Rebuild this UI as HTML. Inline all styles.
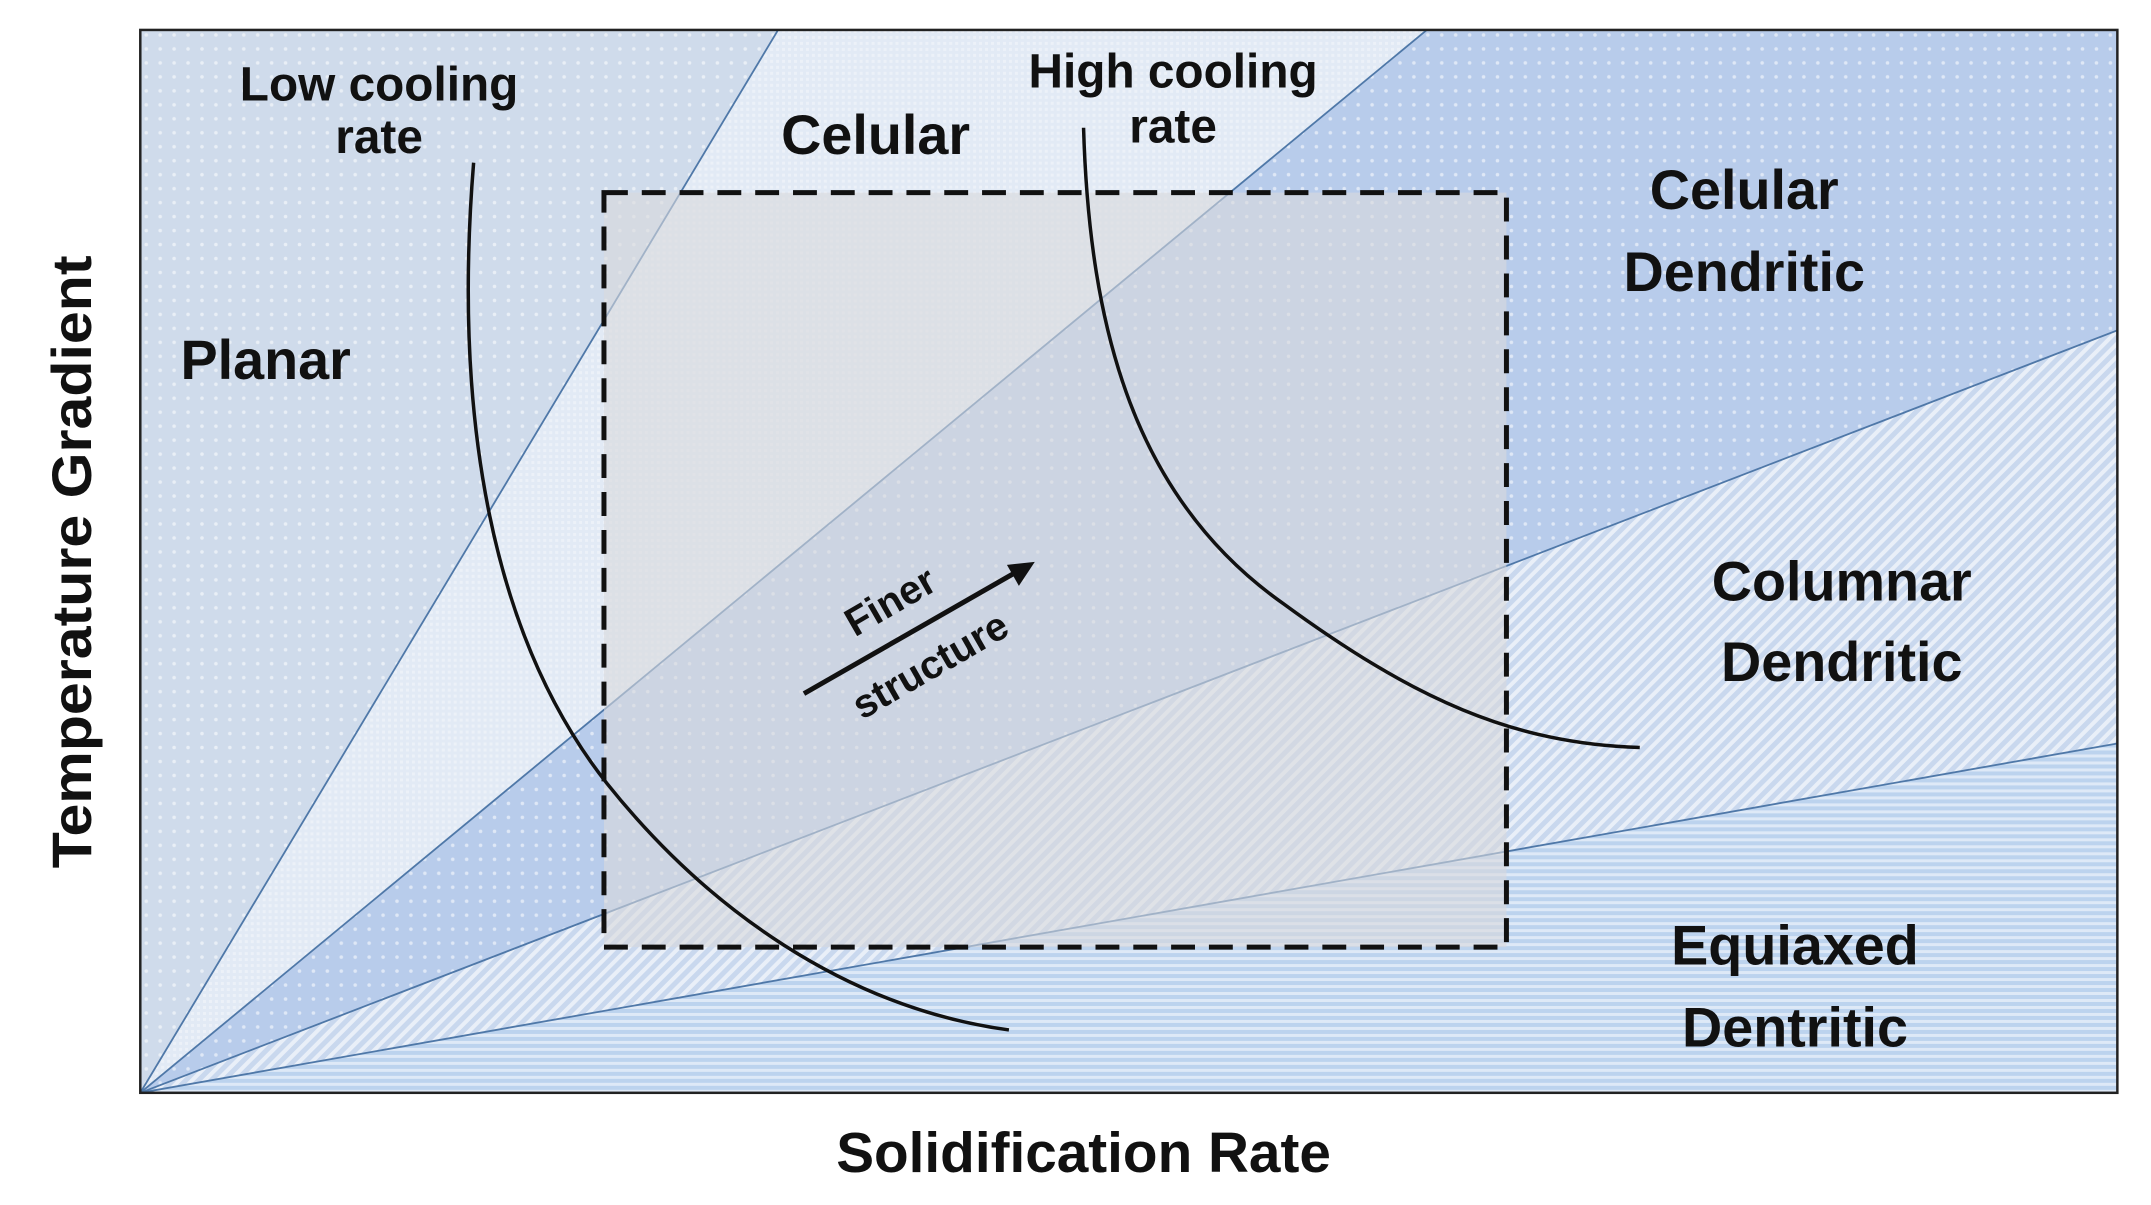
<!DOCTYPE html>
<html><head><meta charset="utf-8"><style>
html,body{margin:0;padding:0;background:#fff;}
svg{display:block;}
text{font-family:"Liberation Sans",sans-serif;font-weight:bold;fill:#111;}
</style></head><body>
<svg width="2151" height="1205" viewBox="0 0 2151 1205" xmlns="http://www.w3.org/2000/svg">
<defs>
<pattern id="dots" width="14" height="14" patternUnits="userSpaceOnUse"><circle cx="7" cy="7" r="1.8" fill="#ffffff" opacity="0.55"/></pattern>
<pattern id="fine" width="6" height="6" patternUnits="userSpaceOnUse"><rect x="0" y="0" width="3" height="3" fill="#ffffff" opacity="0.35"/></pattern>
<pattern id="diag" width="9" height="9" patternUnits="userSpaceOnUse" patternTransform="rotate(45)"><rect width="4" height="9" fill="#ffffff" opacity="0.6"/></pattern>
<pattern id="horiz" width="8" height="7" patternUnits="userSpaceOnUse"><rect width="8" height="3" fill="#ffffff" opacity="0.5"/></pattern>
<clipPath id="frame"><rect x="141" y="30" width="1987" height="1065"/></clipPath>
</defs>
<g transform="scale(0.995,0.998)">
<g clip-path="url(#frame)">
<polygon points="141,1095 141,30 782,30" fill="#cfdbeb"/>
<polygon points="141,1095 141,30 782,30" fill="url(#dots)"/>
<polygon points="141,1095 782,30 1434,30" fill="#e2eaf5"/>
<polygon points="141,1095 782,30 1434,30" fill="url(#fine)"/>
<polygon points="141,1095 1434,30 2128,30 2128,331" fill="#b8cceb"/>
<polygon points="141,1095 1434,30 2128,30 2128,331" fill="url(#dots)"/>
<polygon points="141,1095 2128,331 2128,745" fill="#c9d8ee"/>
<polygon points="141,1095 2128,331 2128,745" fill="url(#diag)"/>
<polygon points="141,1095 2128,745 2128,1095" fill="#bcd3ee"/>
<polygon points="141,1095 2128,745 2128,1095" fill="url(#horiz)"/>
<g stroke="#4f78a8" stroke-width="1.8">
<line x1="141" y1="1095" x2="782" y2="30"/>
<line x1="141" y1="1095" x2="1434" y2="30"/>
<line x1="141" y1="1095" x2="2128" y2="331"/>
<line x1="141" y1="1095" x2="2128" y2="745"/>
</g>
<rect x="607" y="193" width="907" height="756" fill="#d8d9dc" opacity="0.6"/>
</g>
<rect x="141" y="30" width="1987" height="1065" fill="none" stroke="#222" stroke-width="2.5"/>
<rect x="607" y="193" width="907" height="756" fill="none" stroke="#111" stroke-width="5" stroke-dasharray="24,14"/>
<path d="M476,163 C455,420 495,640 610,785 C710,910 850,1010 1014,1032" fill="none" stroke="#111" stroke-width="3.5"/>
<path d="M1089,128 C1095,330 1140,500 1290,605 C1420,700 1520,745 1648,749" fill="none" stroke="#111" stroke-width="3.5"/>
<line x1="808" y1="695" x2="1020" y2="574" stroke="#111" stroke-width="5"/>
<polygon points="1040,563 1012,566 1024,587" fill="#111"/>
<text x="895" y="603" font-size="40" text-anchor="middle" dominant-baseline="central" transform="rotate(-30 895 603)">Finer</text>
<text x="935" y="667" font-size="40" text-anchor="middle" dominant-baseline="central" transform="rotate(-30 935 667)">structure</text>
<text x="381" y="85" font-size="48" text-anchor="middle" dominant-baseline="central">Low cooling</text>
<text x="381" y="138" font-size="48" text-anchor="middle" dominant-baseline="central">rate</text>
<text x="1179" y="72" font-size="48" text-anchor="middle" dominant-baseline="central">High cooling</text>
<text x="1179" y="127" font-size="48" text-anchor="middle" dominant-baseline="central">rate</text>
<text x="880" y="135" font-size="56" text-anchor="middle" dominant-baseline="central">Celular</text>
<text x="267" y="360" font-size="56" text-anchor="middle" dominant-baseline="central">Planar</text>
<text x="1753" y="190" font-size="56" text-anchor="middle" dominant-baseline="central">Celular</text>
<text x="1753" y="272" font-size="56" text-anchor="middle" dominant-baseline="central">Dendritic</text>
<text x="1851" y="582" font-size="56" text-anchor="middle" dominant-baseline="central">Columnar</text>
<text x="1851" y="663" font-size="56" text-anchor="middle" dominant-baseline="central">Dendritic</text>
<text x="1804" y="947" font-size="56" text-anchor="middle" dominant-baseline="central">Equiaxed</text>
<text x="1804" y="1029" font-size="56" text-anchor="middle" dominant-baseline="central">Dentritic</text>
<text x="1089" y="1156" font-size="57" text-anchor="middle" dominant-baseline="central">Solidification Rate</text>
<text x="72" y="563" font-size="56" text-anchor="middle" dominant-baseline="central" textLength="614" lengthAdjust="spacingAndGlyphs" transform="rotate(-90 72 563)">Temperature Gradient</text>
</g>
</svg>
</body></html>
